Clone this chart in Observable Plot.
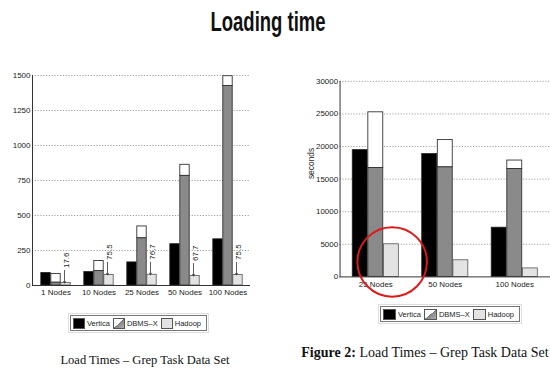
<!DOCTYPE html>
<html>
<head>
<meta charset="utf-8">
<script src="https://cdn.jsdelivr.net/npm/d3@7"></script>
<script src="https://cdn.jsdelivr.net/npm/@observablehq/plot@0.6"></script>
<style>
  html, body { margin:0; padding:0; background:#fff; }
  body { width:550px; height:371px; overflow:hidden; position:relative; }
  .abs { position:absolute; }
  #title { left:268px; top:8px; font: bold 28px "Liberation Sans", Arial, sans-serif; line-height:28px;
           transform: translateX(-50%) scaleX(0.66); transform-origin:center; white-space:nowrap; color:#111; }
  .legend { position:absolute; height:16px; border:1px solid #777; outline:1px solid #ddd; outline-offset:1px;
            display:flex; align-items:center; padding:0 2px; box-sizing:border-box; background:#fff;
            font: 7.5px "Liberation Sans", Arial, sans-serif; color:#222; white-space:nowrap; }
  .sw { width:15px; height:11px; border:1px solid #555; box-sizing:border-box; margin-right:2px; }
  .lab { margin-right:3px; }
  .cap { position:absolute; font-family: "Liberation Serif", "Times New Roman", serif; color:#111; white-space:nowrap;
         transform: translate(-50%, -50%); }
</style>
</head>
<body>
<div id="title" class="abs">Loading time</div>
<div id="left" class="abs" style="left:0px;top:60px"></div>
<div id="right" class="abs" style="left:280px;top:60px"></div>
<div id="legA" class="legend" style="left:70px;top:315px;width:137px"></div>
<div id="legB" class="legend" style="left:380px;top:306px;width:140px"></div>
<div class="cap" style="left:145px;top:360px;font-size:12.5px">Load Times – Grep Task Data Set</div>
<div class="cap" style="left:425px;top:353px;font-size:14px"><b>Figure 2:</b> Load Times – Grep Task Data Set</div>
<script>
// ---- data: left chart ----
const groupsA = ["1 Nodes", "10 Nodes", "25 Nodes", "50 Nodes", "100 Nodes"];
const verticaA = [90, 96, 165, 295, 330];
const dbmsBaseA = [20, 103, 337, 783, 1425];
const dbmsTotalA = [82, 175, 422, 862, 1495];
const hadoopA = [17.6, 75.5, 76.7, 67.7, 75.5];
const ticksA = [0, 250, 500, 750, 1000, 1250, 1500];

// ---- data: right chart ----
const groupsB = ["25 Nodes", "50 Nodes", "100 Nodes"];
const verticaB = [19450, 18850, 7550];
const dbmsBaseB = [16700, 16800, 16550];
const dbmsTotalB = [25250, 21000, 17850];
const hadoopB = [5000, 2550, 1300];
const ticksB = [0, 5000, 10000, 15000, 20000, 25000, 30000];
const highlight = [{group: "25 Nodes", seconds: 2300}];

const seriesNames = ["Vertica", "DBMS–X", "Hadoop"];
const colors = {vertica: "#000000", dbms: "#8a8a8a", reorg: "#ffffff", hadoop: "#e3e3e3"};

const font = "'Liberation Sans',Arial,sans-serif";

function buildChart(o) {
  const rows = o.groups.map((g, i) => ({g, v: o.vertica[i], b: o.base[i], t: o.total[i], h: o.hadoop[i]}));
  const s = o.half, w = o.barW;
  const ins = k => { const l = s - 1.5 * w + k * w; return {insetLeft: l, insetRight: 2 * s - l - w}; };
  const marks = [
    Plot.gridY(o.ticks.filter(d => d > 0), {stroke: "#777", strokeDasharray: "1.2,1.6", strokeOpacity: 0.7}),
    Plot.barY(rows, {x: "g", y1: 0, y2: "v", fill: colors.vertica, stroke: "#222", strokeWidth: 0.8, ...ins(0)}),
    Plot.barY(rows, {x: "g", y1: "b", y2: "t", fill: colors.reorg, stroke: "#333", strokeWidth: 0.9, ...ins(1)}),
    Plot.barY(rows, {x: "g", y1: 0, y2: "b", fill: colors.dbms, stroke: "#333", strokeWidth: 0.9, ...ins(1)}),
    Plot.barY(rows, {x: "g", y1: 0, y2: "h", fill: colors.hadoop, stroke: "#555", strokeWidth: 0.8, ...ins(2)}),
    Plot.ruleY([0], {stroke: "#333", strokeWidth: 1}),
    Plot.frame({anchor: "left", stroke: "#333", strokeWidth: 1}),
    Plot.axisY({ticks: o.ticks, tickSize: 0, tickPadding: 2, tickFormat: d => String(d), label: null, fontSize: 8}),
    Plot.axisX({tickSize: 0, tickPadding: o.xPad, label: null, fontSize: 8})
  ];
  if (o.labels) {
    marks.push(
      Plot.text(rows, {x: "g", y: "h", text: d => String(d.h), rotate: -90, textAnchor: "start", lineAnchor: "middle",
                       dx: w, dy: -15, fontSize: 8, fill: "#222"}),
      Plot.arrow(rows, {x1: "g", x2: "g", y1: d => d.h + 90, y2: "h", dx: w - 1.5, headLength: 3.5, stroke: "#333", strokeWidth: 0.8})
    );
  }
  if (o.extra) marks.push(...o.extra);
  return Plot.plot({
    width: o.width, height: o.height,
    marginLeft: o.ml, marginRight: o.mr, marginTop: o.mt, marginBottom: o.mb,
    x: {domain: o.groups, padding: 0, axis: null},
    y: {domain: o.ydomain, axis: null},
    style: {fontFamily: font, fontSize: "8px", color: "#222", background: "transparent", overflow: "visible"},
    marks
  });
}

document.getElementById("left").append(buildChart({
  groups: groupsA, vertica: verticaA, base: dbmsBaseA, total: dbmsTotalA, hadoop: hadoopA, ticks: ticksA,
  ydomain: [0, 1500], width: 260, height: 245, ml: 32, mr: 10, mt: 15, mb: 20, half: 21.8, barW: 10, xPad: 4, labels: true
}));

document.getElementById("right").append(buildChart({
  groups: groupsB, vertica: verticaB, base: dbmsBaseB, total: dbmsTotalB, hadoop: hadoopB, ticks: ticksB,
  ydomain: [0, 30000], width: 272, height: 240, ml: 60, mr: 0, mt: 21, mb: 22, half: 35.33, barW: 15.7, xPad: 4.5, labels: false,
  extra: [
    Plot.text(["seconds"], {text: d => d, frameAnchor: "left", dx: -29, rotate: -90, fontSize: 8.5, fill: "#222"}),
    Plot.dot(highlight, {x: "group", y: "seconds", dx: 16.5, r: 35, stroke: "#e01818", strokeWidth: 2, fill: "none"})
  ]
}));

function legend(el) {
  const sw = [
    `background:${colors.vertica}`,
    `background:linear-gradient(to bottom right, #fff 0%, #fff 48%, #666 50%, ${colors.dbms} 56%, #b0b0b0 100%)`,
    `background:${colors.hadoop}`
  ];
  el.innerHTML = seriesNames.map((n, i) => `<div class="sw" style="${sw[i]}"></div><span class="lab">${n}</span>`).join("");
}
legend(document.getElementById("legA"));
legend(document.getElementById("legB"));
</script>
</body>
</html>
